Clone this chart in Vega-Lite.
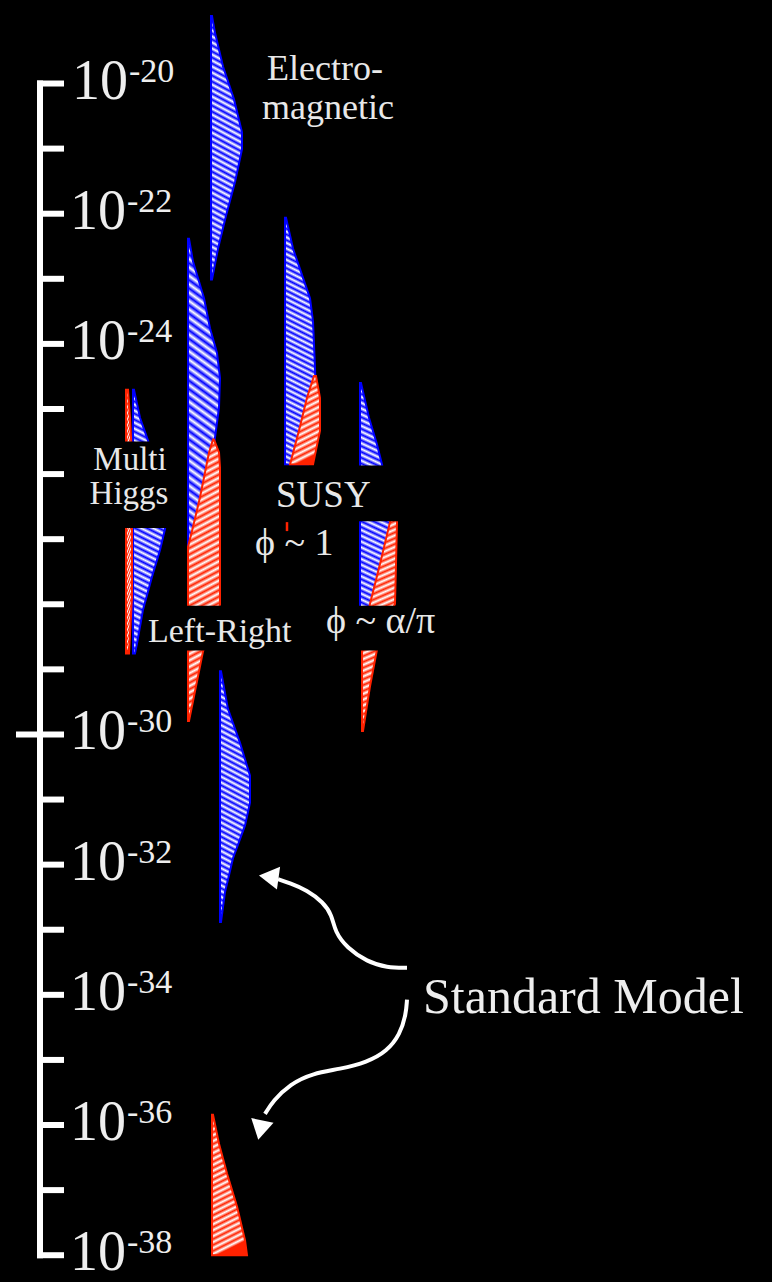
{
  "$schema": "https://vega.github.io/schema/vega-lite/v6.json",
  "width": 772,
  "height": 1282,
  "autosize": {"type": "fit", "contains": "padding"},
  "padding": 0,
  "background": "black",
  "config": {"view": {"stroke": null}},
  "encoding": {
    "x": {"field": "x", "type": "quantitative", "scale": {"domain": [0, 772], "nice": false, "zero": false}, "axis": null},
    "y": {"field": "e", "type": "quantitative", "scale": {"domain": [-38.304, -18.717], "nice": false, "zero": false}, "axis": null}
  },
  "layer": [
    {
      "data": {"values": [
        {"id": "EM", "e": -18.961, "x": 211, "x2": 212},
        {"id": "EM", "e": -19.221, "x": 211, "x2": 215},
        {"id": "EM", "e": -19.740, "x": 211, "x2": 223},
        {"id": "EM", "e": -20.244, "x": 211, "x2": 234},
        {"id": "EM", "e": -20.749, "x": 211, "x2": 242},
        {"id": "EM", "e": -21.008, "x": 211, "x2": 242},
        {"id": "EM", "e": -21.513, "x": 211, "x2": 235},
        {"id": "EM", "e": -22.032, "x": 211, "x2": 226},
        {"id": "EM", "e": -22.536, "x": 211, "x2": 218},
        {"id": "EM", "e": -23.010, "x": 211, "x2": 212},
        {"id": "LR", "e": -22.384, "x": 188, "x2": 189},
        {"id": "LR", "e": -22.735, "x": 188, "x2": 193},
        {"id": "LR", "e": -23.300, "x": 188, "x2": 204},
        {"id": "LR", "e": -23.759, "x": 188, "x2": 210},
        {"id": "LR", "e": -24.141, "x": 188, "x2": 217},
        {"id": "LR", "e": -24.523, "x": 188, "x2": 220},
        {"id": "LR", "e": -24.981, "x": 188, "x2": 219},
        {"id": "LR", "e": -25.439, "x": 188, "x2": 215},
        {"id": "LR", "e": -26.356, "x": 188, "x2": 206},
        {"id": "LR", "e": -27.273, "x": 188, "x2": 196},
        {"id": "LR", "e": -28.037, "x": 188, "x2": 189},
        {"id": "MH", "e": -24.706, "x": 133, "x2": 134},
        {"id": "MH", "e": -25.134, "x": 133, "x2": 140},
        {"id": "MH", "e": -25.485, "x": 133, "x2": 148},
        {"id": "MH", "e": -26.356, "x": 133, "x2": 162},
        {"id": "MH", "e": -26.738, "x": 133, "x2": 166},
        {"id": "MH", "e": -26.845, "x": 133, "x2": 165},
        {"id": "MH", "e": -27.166, "x": 133, "x2": 160},
        {"id": "MH", "e": -27.578, "x": 133, "x2": 152},
        {"id": "MH", "e": -28.083, "x": 133, "x2": 143},
        {"id": "MH", "e": -28.602, "x": 133, "x2": 137},
        {"id": "MH", "e": -28.755, "x": 133, "x2": 135},
        {"id": "S1", "e": -22.063, "x": 285, "x2": 286},
        {"id": "S1", "e": -22.536, "x": 285, "x2": 293},
        {"id": "S1", "e": -23.300, "x": 285, "x2": 310},
        {"id": "S1", "e": -23.652, "x": 285, "x2": 313},
        {"id": "S1", "e": -24.370, "x": 285, "x2": 315},
        {"id": "S1", "e": -24.828, "x": 285, "x2": 316},
        {"id": "S1", "e": -25.439, "x": 285, "x2": 313},
        {"id": "S1", "e": -25.852, "x": 285, "x2": 308},
        {"id": "S2", "e": -24.599, "x": 360, "x2": 361},
        {"id": "S2", "e": -25.134, "x": 360, "x2": 369},
        {"id": "S2", "e": -25.546, "x": 360, "x2": 377},
        {"id": "S2", "e": -25.852, "x": 360, "x2": 382},
        {"id": "S2", "e": -26.738, "x": 360, "x2": 393},
        {"id": "S2", "e": -27.273, "x": 360, "x2": 394},
        {"id": "S2", "e": -27.991, "x": 360, "x2": 385},
        {"id": "S2", "e": -28.495, "x": 360, "x2": 362},
        {"id": "SM", "e": -29.030, "x": 220, "x2": 221},
        {"id": "SM", "e": -29.610, "x": 220, "x2": 228},
        {"id": "SM", "e": -30.130, "x": 220, "x2": 240},
        {"id": "SM", "e": -30.634, "x": 220, "x2": 250},
        {"id": "SM", "e": -31.047, "x": 220, "x2": 250},
        {"id": "SM", "e": -31.398, "x": 220, "x2": 245},
        {"id": "SM", "e": -31.902, "x": 220, "x2": 233},
        {"id": "SM", "e": -32.422, "x": 220, "x2": 225},
        {"id": "SM", "e": -32.880, "x": 220, "x2": 221}
      ]},
      "mark": {
        "type": "area", "orient": "horizontal", "stroke": "#0000ff", "strokeWidth": 2,
        "fill": {"gradient": "linear", "x1": 0.063, "y1": 0, "x2": 0, "y2": 1, "stops": [{"offset":0,"color":"#00f"},{"offset":0.0114,"color":"#fff"},{"offset":0.0227,"color":"#00f"},{"offset":0.0341,"color":"#fff"},{"offset":0.0455,"color":"#00f"},{"offset":0.0568,"color":"#fff"},{"offset":0.0682,"color":"#00f"},{"offset":0.0795,"color":"#fff"},{"offset":0.0909,"color":"#00f"},{"offset":0.1023,"color":"#fff"},{"offset":0.1136,"color":"#00f"},{"offset":0.125,"color":"#fff"},{"offset":0.1364,"color":"#00f"},{"offset":0.1477,"color":"#fff"},{"offset":0.1591,"color":"#00f"},{"offset":0.1705,"color":"#fff"},{"offset":0.1818,"color":"#00f"},{"offset":0.1932,"color":"#fff"},{"offset":0.2045,"color":"#00f"},{"offset":0.2159,"color":"#fff"},{"offset":0.2273,"color":"#00f"},{"offset":0.2386,"color":"#fff"},{"offset":0.25,"color":"#00f"},{"offset":0.2614,"color":"#fff"},{"offset":0.2727,"color":"#00f"},{"offset":0.2841,"color":"#fff"},{"offset":0.2955,"color":"#00f"},{"offset":0.3068,"color":"#fff"},{"offset":0.3182,"color":"#00f"},{"offset":0.3295,"color":"#fff"},{"offset":0.3409,"color":"#00f"},{"offset":0.3523,"color":"#fff"},{"offset":0.3636,"color":"#00f"},{"offset":0.375,"color":"#fff"},{"offset":0.3864,"color":"#00f"},{"offset":0.3977,"color":"#fff"},{"offset":0.4091,"color":"#00f"},{"offset":0.4205,"color":"#fff"},{"offset":0.4318,"color":"#00f"},{"offset":0.4432,"color":"#fff"},{"offset":0.4545,"color":"#00f"},{"offset":0.4659,"color":"#fff"},{"offset":0.4773,"color":"#00f"},{"offset":0.4886,"color":"#fff"},{"offset":0.5,"color":"#00f"},{"offset":0.5114,"color":"#fff"},{"offset":0.5227,"color":"#00f"},{"offset":0.5341,"color":"#fff"},{"offset":0.5455,"color":"#00f"},{"offset":0.5568,"color":"#fff"},{"offset":0.5682,"color":"#00f"},{"offset":0.5795,"color":"#fff"},{"offset":0.5909,"color":"#00f"},{"offset":0.6023,"color":"#fff"},{"offset":0.6136,"color":"#00f"},{"offset":0.625,"color":"#fff"},{"offset":0.6364,"color":"#00f"},{"offset":0.6477,"color":"#fff"},{"offset":0.6591,"color":"#00f"},{"offset":0.6705,"color":"#fff"},{"offset":0.6818,"color":"#00f"},{"offset":0.6932,"color":"#fff"},{"offset":0.7045,"color":"#00f"},{"offset":0.7159,"color":"#fff"},{"offset":0.7273,"color":"#00f"},{"offset":0.7386,"color":"#fff"},{"offset":0.75,"color":"#00f"},{"offset":0.7614,"color":"#fff"},{"offset":0.7727,"color":"#00f"},{"offset":0.7841,"color":"#fff"},{"offset":0.7955,"color":"#00f"},{"offset":0.8068,"color":"#fff"},{"offset":0.8182,"color":"#00f"},{"offset":0.8295,"color":"#fff"},{"offset":0.8409,"color":"#00f"},{"offset":0.8523,"color":"#fff"},{"offset":0.8636,"color":"#00f"},{"offset":0.875,"color":"#fff"},{"offset":0.8864,"color":"#00f"},{"offset":0.8977,"color":"#fff"},{"offset":0.9091,"color":"#00f"},{"offset":0.9205,"color":"#fff"},{"offset":0.9318,"color":"#00f"},{"offset":0.9432,"color":"#fff"},{"offset":0.9545,"color":"#00f"},{"offset":0.9659,"color":"#fff"},{"offset":0.9773,"color":"#00f"},{"offset":0.9886,"color":"#fff"},{"offset":1,"color":"#00f"}]}
      },
      "encoding": {"x2": {"field": "x2"}, "detail": {"field": "id"}}
    },
    {
      "data": {"values": [
        {"id": "LRr", "e": -25.470, "x": 213, "x2": 214},
        {"id": "LRr", "e": -25.668, "x": 209, "x2": 219},
        {"id": "LRr", "e": -25.898, "x": 206, "x2": 220},
        {"id": "LRr", "e": -26.356, "x": 200, "x2": 220},
        {"id": "LRr", "e": -26.814, "x": 193, "x2": 220},
        {"id": "LRr", "e": -27.120, "x": 188, "x2": 220},
        {"id": "LRr", "e": -28.006, "x": 188, "x2": 220},
        {"id": "LRr", "e": -28.724, "x": 188, "x2": 203},
        {"id": "LRr", "e": -29.259, "x": 188, "x2": 196},
        {"id": "LRr", "e": -29.794, "x": 188, "x2": 189},
        {"id": "MHr", "e": -24.706, "x": 126, "x2": 128},
        {"id": "MHr", "e": -25.134, "x": 126, "x2": 130},
        {"id": "MHr", "e": -25.745, "x": 126, "x2": 132},
        {"id": "MHr", "e": -27.884, "x": 126, "x2": 132},
        {"id": "MHr", "e": -28.755, "x": 126, "x2": 129},
        {"id": "S2r", "e": -26.050, "x": 396, "x2": 397},
        {"id": "S2r", "e": -26.738, "x": 390, "x2": 397},
        {"id": "S2r", "e": -27.380, "x": 380, "x2": 396},
        {"id": "S2r", "e": -27.991, "x": 370, "x2": 395},
        {"id": "S2r", "e": -28.694, "x": 362, "x2": 377},
        {"id": "S2r", "e": -29.259, "x": 362, "x2": 370},
        {"id": "S2r", "e": -29.947, "x": 362, "x2": 363}
      ]},
      "mark": {
        "type": "area", "orient": "horizontal", "stroke": "#ff2200", "strokeWidth": 2,
        "fill": {"gradient": "linear", "x1": 0, "y1": 0, "x2": 0.06, "y2": 1, "stops": [{"offset":0,"color":"#f20"},{"offset":0.0114,"color":"#fff"},{"offset":0.0227,"color":"#f20"},{"offset":0.0341,"color":"#fff"},{"offset":0.0455,"color":"#f20"},{"offset":0.0568,"color":"#fff"},{"offset":0.0682,"color":"#f20"},{"offset":0.0795,"color":"#fff"},{"offset":0.0909,"color":"#f20"},{"offset":0.1023,"color":"#fff"},{"offset":0.1136,"color":"#f20"},{"offset":0.125,"color":"#fff"},{"offset":0.1364,"color":"#f20"},{"offset":0.1477,"color":"#fff"},{"offset":0.1591,"color":"#f20"},{"offset":0.1705,"color":"#fff"},{"offset":0.1818,"color":"#f20"},{"offset":0.1932,"color":"#fff"},{"offset":0.2045,"color":"#f20"},{"offset":0.2159,"color":"#fff"},{"offset":0.2273,"color":"#f20"},{"offset":0.2386,"color":"#fff"},{"offset":0.25,"color":"#f20"},{"offset":0.2614,"color":"#fff"},{"offset":0.2727,"color":"#f20"},{"offset":0.2841,"color":"#fff"},{"offset":0.2955,"color":"#f20"},{"offset":0.3068,"color":"#fff"},{"offset":0.3182,"color":"#f20"},{"offset":0.3295,"color":"#fff"},{"offset":0.3409,"color":"#f20"},{"offset":0.3523,"color":"#fff"},{"offset":0.3636,"color":"#f20"},{"offset":0.375,"color":"#fff"},{"offset":0.3864,"color":"#f20"},{"offset":0.3977,"color":"#fff"},{"offset":0.4091,"color":"#f20"},{"offset":0.4205,"color":"#fff"},{"offset":0.4318,"color":"#f20"},{"offset":0.4432,"color":"#fff"},{"offset":0.4545,"color":"#f20"},{"offset":0.4659,"color":"#fff"},{"offset":0.4773,"color":"#f20"},{"offset":0.4886,"color":"#fff"},{"offset":0.5,"color":"#f20"},{"offset":0.5114,"color":"#fff"},{"offset":0.5227,"color":"#f20"},{"offset":0.5341,"color":"#fff"},{"offset":0.5455,"color":"#f20"},{"offset":0.5568,"color":"#fff"},{"offset":0.5682,"color":"#f20"},{"offset":0.5795,"color":"#fff"},{"offset":0.5909,"color":"#f20"},{"offset":0.6023,"color":"#fff"},{"offset":0.6136,"color":"#f20"},{"offset":0.625,"color":"#fff"},{"offset":0.6364,"color":"#f20"},{"offset":0.6477,"color":"#fff"},{"offset":0.6591,"color":"#f20"},{"offset":0.6705,"color":"#fff"},{"offset":0.6818,"color":"#f20"},{"offset":0.6932,"color":"#fff"},{"offset":0.7045,"color":"#f20"},{"offset":0.7159,"color":"#fff"},{"offset":0.7273,"color":"#f20"},{"offset":0.7386,"color":"#fff"},{"offset":0.75,"color":"#f20"},{"offset":0.7614,"color":"#fff"},{"offset":0.7727,"color":"#f20"},{"offset":0.7841,"color":"#fff"},{"offset":0.7955,"color":"#f20"},{"offset":0.8068,"color":"#fff"},{"offset":0.8182,"color":"#f20"},{"offset":0.8295,"color":"#fff"},{"offset":0.8409,"color":"#f20"},{"offset":0.8523,"color":"#fff"},{"offset":0.8636,"color":"#f20"},{"offset":0.875,"color":"#fff"},{"offset":0.8864,"color":"#f20"},{"offset":0.8977,"color":"#fff"},{"offset":0.9091,"color":"#f20"},{"offset":0.9205,"color":"#fff"},{"offset":0.9318,"color":"#f20"},{"offset":0.9432,"color":"#fff"},{"offset":0.9545,"color":"#f20"},{"offset":0.9659,"color":"#fff"},{"offset":0.9773,"color":"#f20"},{"offset":0.9886,"color":"#fff"},{"offset":1,"color":"#f20"}]}
      },
      "encoding": {"x2": {"field": "x2"}, "detail": {"field": "id"}}
    },
    {
      "data": {"values": [
        {"id": "S1r", "e": -24.492, "x": 314, "x2": 316},
        {"id": "S1r", "e": -24.828, "x": 307, "x2": 320},
        {"id": "S1r", "e": -25.332, "x": 299, "x2": 320},
        {"id": "S1r", "e": -25.852, "x": 290, "x2": 313}
      ]},
      "mark": {
        "type": "area", "orient": "horizontal", "stroke": "#ff2200", "strokeWidth": 2,
        "fill": {"gradient": "linear", "x1": 0, "y1": 0, "x2": 0.17, "y2": 1, "stops": [{"offset":0,"color":"#f20"},{"offset":0.0333,"color":"#fff"},{"offset":0.0667,"color":"#f20"},{"offset":0.1,"color":"#fff"},{"offset":0.1333,"color":"#f20"},{"offset":0.1667,"color":"#fff"},{"offset":0.2,"color":"#f20"},{"offset":0.2333,"color":"#fff"},{"offset":0.2667,"color":"#f20"},{"offset":0.3,"color":"#fff"},{"offset":0.3333,"color":"#f20"},{"offset":0.3667,"color":"#fff"},{"offset":0.4,"color":"#f20"},{"offset":0.4333,"color":"#fff"},{"offset":0.4667,"color":"#f20"},{"offset":0.5,"color":"#fff"},{"offset":0.5333,"color":"#f20"},{"offset":0.5667,"color":"#fff"},{"offset":0.6,"color":"#f20"},{"offset":0.6333,"color":"#fff"},{"offset":0.6667,"color":"#f20"},{"offset":0.7,"color":"#fff"},{"offset":0.7333,"color":"#f20"},{"offset":0.7667,"color":"#fff"},{"offset":0.8,"color":"#f20"},{"offset":0.8333,"color":"#fff"},{"offset":0.8667,"color":"#f20"},{"offset":0.9,"color":"#fff"},{"offset":0.9333,"color":"#f20"},{"offset":0.9667,"color":"#fff"},{"offset":1,"color":"#f20"}]}
      },
      "encoding": {"x2": {"field": "x2"}, "detail": {"field": "id"}}
    },
    {
      "data": {"values": [
        {"id": "SMr", "e": -35.844, "x": 212, "x2": 213},
        {"id": "SMr", "e": -36.287, "x": 212, "x2": 219},
        {"id": "SMr", "e": -36.745, "x": 212, "x2": 227},
        {"id": "SMr", "e": -37.250, "x": 212, "x2": 237},
        {"id": "SMr", "e": -37.769, "x": 212, "x2": 245},
        {"id": "SMr", "e": -38.000, "x": 212, "x2": 247}
      ]},
      "mark": {
        "type": "area", "orient": "horizontal", "stroke": "#ff2200", "strokeWidth": 2,
        "fill": {"gradient": "linear", "x1": 0, "y1": 0, "x2": 0.125, "y2": 1, "stops": [{"offset":0,"color":"#f20"},{"offset":0.0208,"color":"#fff"},{"offset":0.0417,"color":"#f20"},{"offset":0.0625,"color":"#fff"},{"offset":0.0833,"color":"#f20"},{"offset":0.1042,"color":"#fff"},{"offset":0.125,"color":"#f20"},{"offset":0.1458,"color":"#fff"},{"offset":0.1667,"color":"#f20"},{"offset":0.1875,"color":"#fff"},{"offset":0.2083,"color":"#f20"},{"offset":0.2292,"color":"#fff"},{"offset":0.25,"color":"#f20"},{"offset":0.2708,"color":"#fff"},{"offset":0.2917,"color":"#f20"},{"offset":0.3125,"color":"#fff"},{"offset":0.3333,"color":"#f20"},{"offset":0.3542,"color":"#fff"},{"offset":0.375,"color":"#f20"},{"offset":0.3958,"color":"#fff"},{"offset":0.4167,"color":"#f20"},{"offset":0.4375,"color":"#fff"},{"offset":0.4583,"color":"#f20"},{"offset":0.4792,"color":"#fff"},{"offset":0.5,"color":"#f20"},{"offset":0.5208,"color":"#fff"},{"offset":0.5417,"color":"#f20"},{"offset":0.5625,"color":"#fff"},{"offset":0.5833,"color":"#f20"},{"offset":0.6042,"color":"#fff"},{"offset":0.625,"color":"#f20"},{"offset":0.6458,"color":"#fff"},{"offset":0.6667,"color":"#f20"},{"offset":0.6875,"color":"#fff"},{"offset":0.7083,"color":"#f20"},{"offset":0.7292,"color":"#fff"},{"offset":0.75,"color":"#f20"},{"offset":0.7708,"color":"#fff"},{"offset":0.7917,"color":"#f20"},{"offset":0.8125,"color":"#fff"},{"offset":0.8333,"color":"#f20"},{"offset":0.8542,"color":"#fff"},{"offset":0.875,"color":"#f20"},{"offset":0.8958,"color":"#fff"},{"offset":0.9167,"color":"#f20"},{"offset":0.9375,"color":"#fff"},{"offset":0.9583,"color":"#f20"},{"offset":0.9792,"color":"#fff"},{"offset":1,"color":"#f20"}]}
      },
      "encoding": {"x2": {"field": "x2"}, "detail": {"field": "id"}}
    },
    {
      "data": {"values": [
        {"x": 85, "x2": 172, "e": -25.50, "e2": -26.83},
        {"x": 274, "x2": 403, "e": -25.867, "e2": -26.723},
        {"x": 146, "x2": 447, "e": -28.021, "e2": -28.709}
      ]},
      "mark": {"type": "rect", "color": "black"},
      "encoding": {"x2": {"field": "x2"}, "y2": {"field": "e2"}}
    },
    {
      "data": {"values": [{"x": 287, "x2": 287, "e": -26.738, "e2": -26.876}]},
      "mark": {"type": "rule", "color": "#ff2200", "strokeWidth": 2.5},
      "encoding": {"x2": {"field": "x2"}, "y2": {"field": "e2"}}
    },
    {
      "data": {"values": [
        {"x": 40, "x2": 40, "e": -20, "e2": -38},
        {"x": 40, "x2": 61, "e": -20, "e2": -20},
        {"x": 40, "x2": 61, "e": -21, "e2": -21},
        {"x": 40, "x2": 61, "e": -22, "e2": -22},
        {"x": 40, "x2": 61, "e": -23, "e2": -23},
        {"x": 40, "x2": 61, "e": -24, "e2": -24},
        {"x": 40, "x2": 61, "e": -25, "e2": -25},
        {"x": 40, "x2": 61, "e": -26, "e2": -26},
        {"x": 40, "x2": 61, "e": -27, "e2": -27},
        {"x": 40, "x2": 61, "e": -28, "e2": -28},
        {"x": 40, "x2": 61, "e": -29, "e2": -29},
        {"x": 19, "x2": 61, "e": -30, "e2": -30},
        {"x": 40, "x2": 61, "e": -31, "e2": -31},
        {"x": 40, "x2": 61, "e": -32, "e2": -32},
        {"x": 40, "x2": 61, "e": -33, "e2": -33},
        {"x": 40, "x2": 61, "e": -34, "e2": -34},
        {"x": 40, "x2": 61, "e": -35, "e2": -35},
        {"x": 40, "x2": 61, "e": -36, "e2": -36},
        {"x": 40, "x2": 61, "e": -37, "e2": -37},
        {"x": 40, "x2": 61, "e": -38, "e2": -38}
      ]},
      "mark": {"type": "rule", "color": "white", "strokeWidth": 6, "strokeCap": "square"},
      "encoding": {"x2": {"field": "x2"}, "y2": {"field": "e2"}}
    },
    {
      "data": {"values": [
        {"id": "a1", "x": 407, "e": -33.583},
        {"id": "a1", "x": 387, "e": -33.583},
        {"id": "a1", "x": 367, "e": -33.491},
        {"id": "a1", "x": 347, "e": -33.277},
        {"id": "a1", "x": 335, "e": -33.033},
        {"id": "a1", "x": 332, "e": -32.773},
        {"id": "a1", "x": 323, "e": -32.575},
        {"id": "a1", "x": 307, "e": -32.391},
        {"id": "a1", "x": 290, "e": -32.284},
        {"id": "a1", "x": 278, "e": -32.223},
        {"id": "a2", "x": 407, "e": -34.072},
        {"id": "a2", "x": 406, "e": -34.301},
        {"id": "a2", "x": 400, "e": -34.607},
        {"id": "a2", "x": 387, "e": -34.866},
        {"id": "a2", "x": 367, "e": -35.035},
        {"id": "a2", "x": 340, "e": -35.141},
        {"id": "a2", "x": 313, "e": -35.203},
        {"id": "a2", "x": 290, "e": -35.371},
        {"id": "a2", "x": 273, "e": -35.630},
        {"id": "a2", "x": 265, "e": -35.829}
      ]},
      "mark": {"type": "line", "color": "white", "strokeWidth": 4, "interpolate": "basis"},
      "encoding": {"detail": {"field": "id"}, "order": {"value": null}}
    },
    {
      "data": {"values": [{"x": 272, "e": -32.193}]},
      "mark": {"type": "point", "shape": "triangle", "filled": true, "color": "white", "opacity": 1, "size": 520, "angle": 278},
      "encoding": {}
    },
    {
      "data": {"values": [{"x": 261, "e": -36.028}]},
      "mark": {"type": "point", "shape": "triangle", "filled": true, "color": "white", "opacity": 1, "size": 520, "angle": 192},
      "encoding": {}
    },
    {
      "data": {"values": [
        {"x": 72, "e": -20, "t": "10"}, {"x": 70, "e": -22, "t": "10"}, {"x": 70, "e": -24, "t": "10"},
        {"x": 70, "e": -30, "t": "10"}, {"x": 70, "e": -32, "t": "10"}, {"x": 70, "e": -34, "t": "10"},
        {"x": 70, "e": -36, "t": "10"}, {"x": 70, "e": -38, "t": "10"}
      ]},
      "mark": {"type": "text", "align": "left", "baseline": "alphabetic", "dy": 15, "font": "Liberation Serif", "fontSize": 56, "color": "#eeeeee"},
      "encoding": {"text": {"field": "t"}}
    },
    {
      "data": {"values": [
        {"x": 129, "e": -20, "t": "-20"}, {"x": 127, "e": -22, "t": "-22"}, {"x": 127, "e": -24, "t": "-24"},
        {"x": 127, "e": -30, "t": "-30"}, {"x": 127, "e": -32, "t": "-32"}, {"x": 127, "e": -34, "t": "-34"},
        {"x": 127, "e": -36, "t": "-36"}, {"x": 127, "e": -38, "t": "-38"}
      ]},
      "mark": {"type": "text", "align": "left", "baseline": "alphabetic", "dy": -2, "font": "Liberation Serif", "fontSize": 34, "color": "#eeeeee"},
      "encoding": {"text": {"field": "t"}}
    },
    {
      "data": {"values": [
        {"x": 325, "e": -19.939, "t": "Electro-"},
        {"x": 328, "e": -20.550, "t": "magnetic"}
      ]},
      "mark": {"type": "text", "align": "center", "baseline": "alphabetic", "font": "Liberation Serif", "fontSize": 36, "color": "#e8e8e8"},
      "encoding": {"text": {"field": "t"}}
    },
    {
      "data": {"values": [
        {"x": 130, "e": -25.944, "t": "Multi"},
        {"x": 129, "e": -26.463, "t": "Higgs"}
      ]},
      "mark": {"type": "text", "align": "center", "baseline": "alphabetic", "font": "Liberation Serif", "fontSize": 33, "color": "#e8e8e8"},
      "encoding": {"text": {"field": "t"}}
    },
    {
      "data": {"values": [{"x": 276, "e": -26.509, "t": "SUSY"}]},
      "mark": {"type": "text", "align": "left", "baseline": "alphabetic", "font": "Liberation Serif", "fontSize": 37, "color": "#e8e8e8"},
      "encoding": {"text": {"field": "t"}}
    },
    {
      "data": {"values": [
        {"x": 255, "e": -27.242, "t": "ϕ ~ 1"},
        {"x": 326, "e": -28.449, "t": "ϕ ~ α/π"}
      ]},
      "mark": {"type": "text", "align": "left", "baseline": "alphabetic", "font": "Liberation Serif", "fontSize": 38, "color": "#e8e8e8"},
      "encoding": {"text": {"field": "t"}}
    },
    {
      "data": {"values": [
        {"x": 148, "e": -28.572, "t": "Left-Right"}
      ]},
      "mark": {"type": "text", "align": "left", "baseline": "alphabetic", "font": "Liberation Serif", "fontSize": 34, "color": "#e8e8e8"},
      "encoding": {"text": {"field": "t"}}
    },
    {
      "data": {"values": [{"x": 423, "e": -34.286, "t": "Standard Model"}]},
      "mark": {"type": "text", "align": "left", "baseline": "alphabetic", "font": "Liberation Serif", "fontSize": 50, "color": "#eeeeee"},
      "encoding": {"text": {"field": "t"}}
    }
  ]
}
